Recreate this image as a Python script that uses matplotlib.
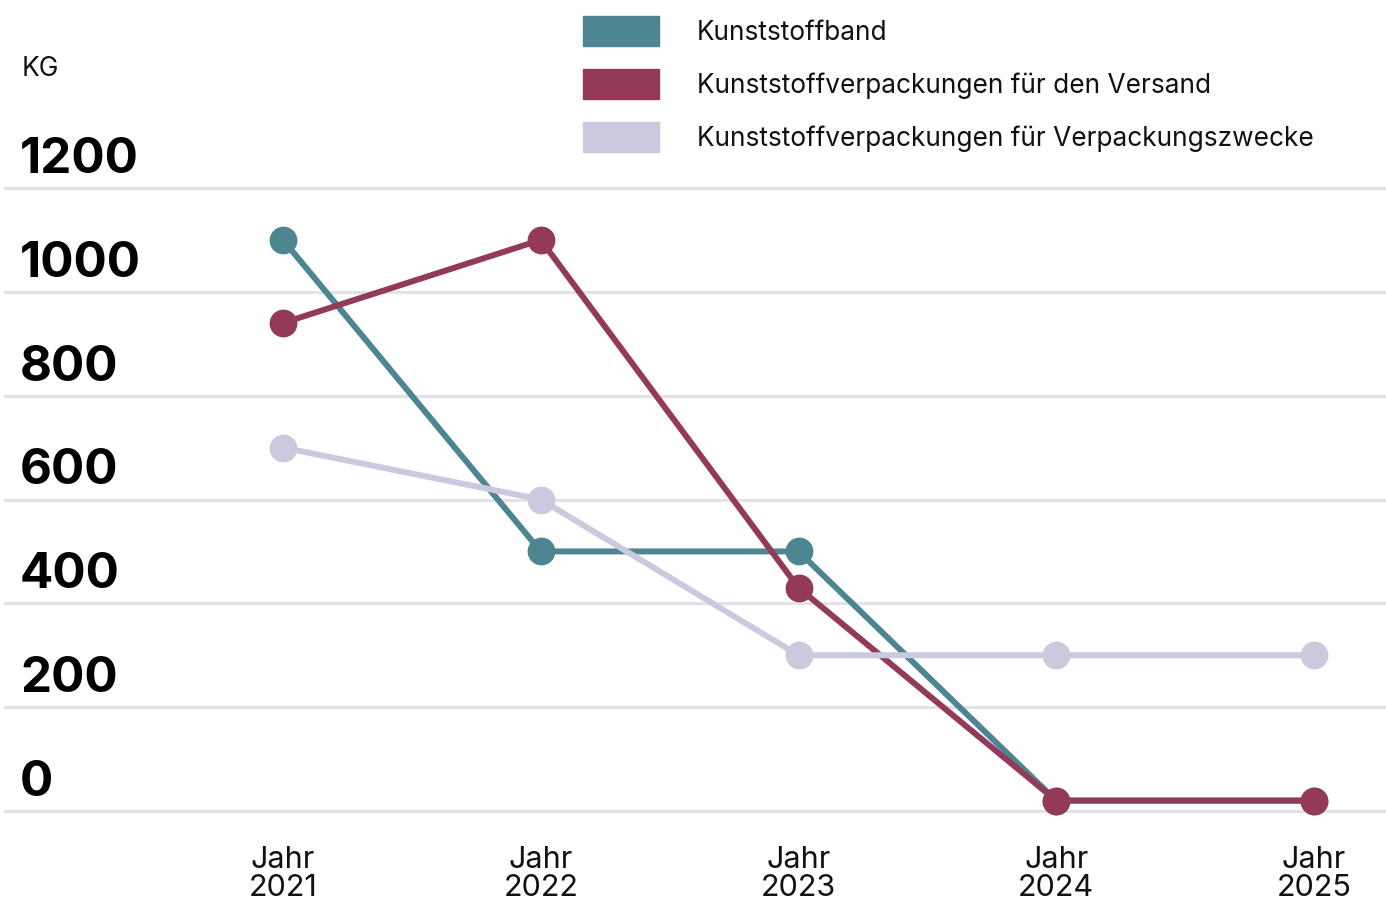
import matplotlib
matplotlib.use("Agg")
import matplotlib.pyplot as plt
from matplotlib.patches import Rectangle

plt.rcParams['font.family'] = ['Inter', 'DejaVu Sans']

# data
years = ["2021", "2022", "2023", "2024", "2025"]
series_names = [
    "Kunststoffband",
    "Kunststoffverpackungen für den Versand",
    "Kunststoffverpackungen für Verpackungszwecke",
]
kunststoffband = [1100, 500, 500, 20, 20]
versand = [940, 1100, 430, 20, 20]
verpackungszwecke = [700, 600, 300, 300, 300]
colors = ["#4d8690", "#933a59", "#cbc9de"]
y_ticks = [0, 200, 400, 600, 800, 1000, 1200]

W, H = 1386, 901
fig = plt.figure(figsize=(W / 100, H / 100), dpi=100)

# axes placed in pixel terms: gridlines run 5..1386, y=0 at 811, y=1200 at 188
ax = fig.add_axes([5 / W, (H - 811) / H, (W - 5) / W, (811 - 188) / H])
x = list(range(len(years)))
step = (1314 - 283) / 4
ax.set_xlim(-(283 - 5) / step, 4 + (1386 - 1314) / step)
ax.set_ylim(0, 1200)

for vals, c in zip([kunststoffband, versand, verpackungszwecke], colors):
    ax.plot(x, vals, color=c, lw=4.3, marker="o", ms=19, solid_capstyle="round",
            clip_on=False, zorder=3)

for t in y_ticks:
    ax.axhline(t, color="#e3e1eb", lw=2.2, zorder=1, clip_on=False)
    ax.annotate(str(t), xy=(0, t), xycoords=ax.get_yaxis_transform(),
                xytext=(15, 15), textcoords="offset pixels",
                fontsize=35.5, fontweight="bold", color="#000000",
                ha="left", va="baseline")

ax.set_yticks([])
ax.set_xticks(x)
ax.set_xticklabels(["Jahr\n" + y for y in years], fontsize=22,
                   linespacing=1.0, color="#111111")
ax.tick_params(axis="x", length=0, pad=25)
for s in ax.spines.values():
    s.set_visible(False)

fig.text(22 / W, 1 - 69 / H, "KG", fontsize=19, color="#111111",
         ha="left", va="center")

# legend drawn by hand at the top
for i, (name, c) in enumerate(zip(series_names, colors)):
    yc = 31 + i * 53
    fig.patches.append(Rectangle((583 / W, 1 - (yc + 15) / H), 76 / W, 30 / H,
                                 transform=fig.transFigure, color=c))
    fig.text(697 / W, 1 - (yc + 2) / H, name, fontsize=18.9, color="#111111",
             ha="left", va="center")

fig.savefig("out.png", dpi=100)
